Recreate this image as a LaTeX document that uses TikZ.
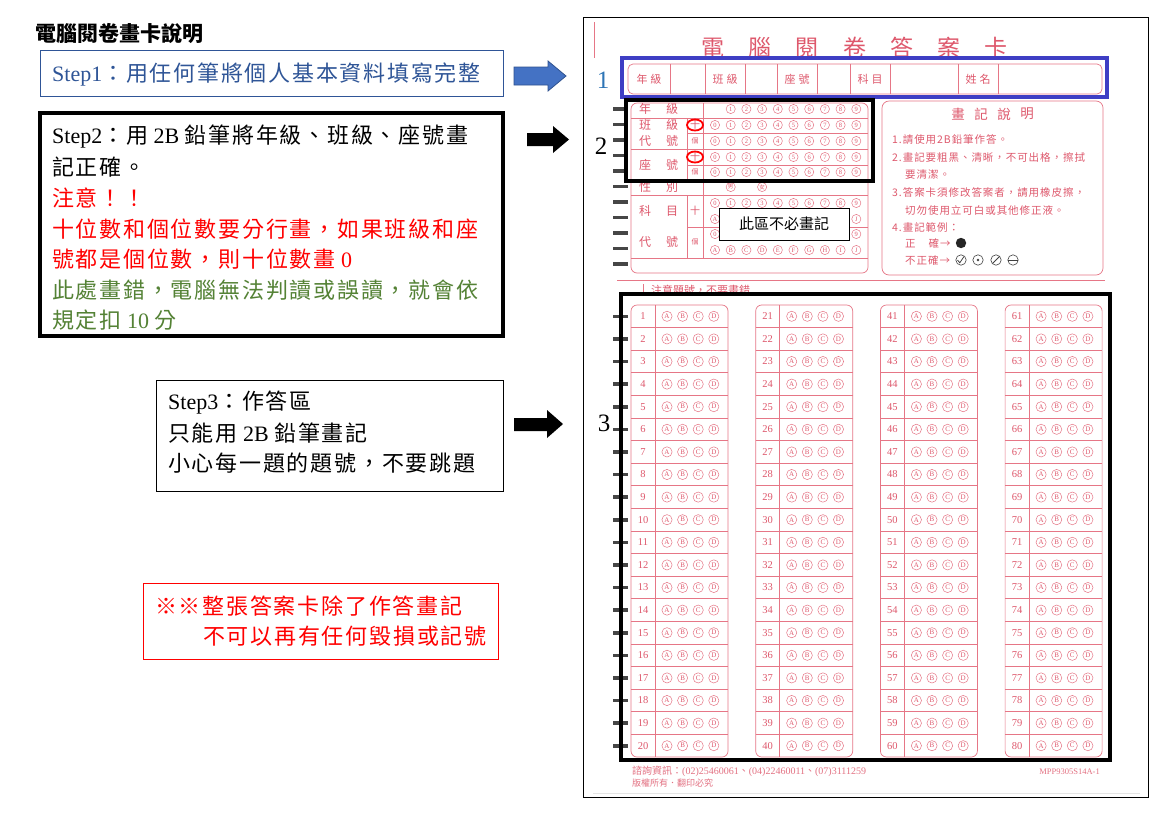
\documentclass[tikz,border=0pt]{standalone}
\usepackage{fontspec}
\setmainfont{Liberation Serif}
\newfontfamily\cjk{Noto Sans CJK TC}
\newfontfamily\cjksp{Noto Sans CJK TC}[LetterSpace=8]
\newfontfamily\cjkcard{Noto Sans CJK TC}[LetterSpace=9]
\definecolor{cred}{RGB}{222,88,108}
\definecolor{cline}{RGB}{230,118,134}
\definecolor{sblue}{RGB}{47,85,151}
\definecolor{sgreen}{RGB}{84,130,53}
\definecolor{bbox}{RGB}{62,62,196}
\definecolor{arrblue}{RGB}{68,114,196}
\definecolor{arrblued}{RGB}{47,82,143}
\definecolor{numblue}{RGB}{46,117,182}
\definecolor{tmk}{RGB}{70,70,70}
\begin{document}
\begin{tikzpicture}[x=1pt,y=-1pt,
  steptxt/.style={anchor=west, inner sep=0pt, font=\fontsize{22}{26}\selectfont},
  cardline/.style={draw=cline, line width=0.7pt},
  ctxt/.style={text=cred, inner sep=0pt, font=\cjk\fontsize{12}{12}\selectfont},
  csmall/.style={text=cred, inner sep=0pt, anchor=west, font=\cjkcard\fontsize{10.5}{11}\selectfont},
  bub/.style={draw=cline, line width=0.5pt},
  bubtxt/.style={text=cred, inner sep=0pt, font=\fontsize{6.5}{7}\selectfont},
  abubtxt/.style={text=cred, inner sep=0pt, font=\fontsize{7}{7}\selectfont},
  numtxt/.style={text=cred, inner sep=0pt, font=\fontsize{10.5}{10.5}\selectfont},
  bigbox/.style={draw=black, line width=4pt},
  bignum/.style={inner sep=0pt, font=\fontsize{25}{25}\selectfont},
]
\useasboundingbox (0,0) rectangle (1170,812);
\fill[white] (0,0) rectangle (1170,812);

% ---------- left side ----------
\node[anchor=west, inner sep=0pt, font=\cjk\bfseries\fontsize{21}{21}\selectfont] (title) at (35,34) {電腦閱卷畫卡說明};

\draw[draw=sblue, line width=1pt] (40,50) rectangle (503,96);
\node[steptxt, text=sblue] (s1) at (52,74) {Step1{\cjksp ：用任何筆將個人基本資料填寫完整}};

\draw[draw=black, line width=4pt] (40,113) rectangle (503,336);
\node[steptxt] (s2a) at (52,137) {Step2{\cjksp ：用} 2B {\cjksp 鉛筆將年級、班級、座號畫}};
\node[steptxt] (s2b) at (52,167) {{\cjksp 記正確。}};
\node[steptxt, text=red] (s2c) at (52,198) {{\cjksp 注意！！}};
\node[steptxt, text=red] (s2d) at (52,229) {{\cjksp 十位數和個位數要分行畫，如果班級和座}};
\node[steptxt, text=red] (s2e) at (52,259) {{\cjksp 號都是個位數，則十位數畫} 0};
\node[steptxt, text=sgreen] (s2f) at (52,290) {{\cjksp 此處畫錯，電腦無法判讀或誤讀，就會依}};
\node[steptxt, text=sgreen] (s2g) at (52,320) {{\cjksp 規定扣} 10 {\cjksp 分}};

\draw[draw=black, line width=1pt] (156,380) rectangle (503,491);
\node[steptxt] (s3a) at (168,403) {Step3{\cjksp ：作答區}};
\node[steptxt] (s3b) at (168,433) {{\cjksp 只能用} 2B {\cjksp 鉛筆畫記}};
\node[steptxt] (s3c) at (168,463) {{\cjksp 小心每一題的題號，不要跳題}};

\draw[draw=red, line width=1pt] (143,583) rectangle (498,659);
\node[steptxt, text=red] (w1) at (155,606) {{\cjksp ※※整張答案卡除了作答畫記}};
\node[steptxt, text=red] (w2) at (203,636) {{\cjksp 不可以再有任何毀損或記號}};

% arrows
\fill[arrblue, draw=arrblued, line width=0.8pt] (514,67) -- (548,67) -- (548,61) -- (566,76) -- (548,91) -- (548,85) -- (514,85) -- cycle;
\fill[black] (527,133) -- (553,133) -- (553,126) -- (569,139.5) -- (553,153) -- (553,146) -- (527,146) -- cycle;
\fill[black] (514,418) -- (547,418) -- (547,410) -- (563,424) -- (547,438) -- (547,431) -- (514,431) -- cycle;

% ---------- answer card ----------
\draw[black, line width=0.8pt] (583,17) rectangle (1148,797);
\draw[gray!20, line width=1pt] (593,793) -- (1140,793);
\draw[cline] (594,22) -- (594,58);
\foreach \ch [count=\i from 0] in {電,腦,閱,卷,答,案,卡}{
  \node[text=cred, inner sep=0pt, font=\cjk\fontsize{23}{23}\selectfont] (t\i) at (713+47.2*\i,48) {\ch};
}
% info row
\draw[cardline, rounded corners=5pt] (628,64) rectangle (1102,94);
\foreach \xx in {670,705,745,777,817,850,890,958,998}{\draw[cardline] (\xx,64) -- (\xx,94);}
\node[ctxt, font=\cjk\fontsize{11}{11}\selectfont] (i1) at (649,79) {年\hspace{3pt}級};
\node[ctxt, font=\cjk\fontsize{11}{11}\selectfont] (i2) at (725,79) {班\hspace{3pt}級};
\node[ctxt, font=\cjk\fontsize{11}{11}\selectfont] (i3) at (797,79) {座\hspace{3pt}號};
\node[ctxt, font=\cjk\fontsize{11}{11}\selectfont] (i4) at (870,79) {科\hspace{3pt}目};
\node[ctxt, font=\cjk\fontsize{11}{11}\selectfont] (i5) at (978,79) {姓\hspace{3pt}名};

% upper-left block
\draw[cardline, rounded corners=6pt] (631,103) rectangle (868,273);
\foreach \yy in {118,149,180,195,258}{\draw[cardline] (631,\yy) -- (868,\yy);}
\foreach \yy in {133,165,227}{\draw[cardline] (687,\yy) -- (868,\yy);}
\draw[cardline] (703,103) -- (703,258);
\draw[cardline] (687,118) -- (687,180);
\draw[cardline] (687,195) -- (687,258);
\node[ctxt] (l1a) at (645,109) {年}; \node[ctxt] (l1b) at (672,109) {級};
\node[ctxt] (l2a) at (645,125) {班}; \node[ctxt] (l2b) at (672,125) {級};
\node[ctxt] (l3a) at (645,141) {代}; \node[ctxt] (l3b) at (672,141) {號};
\node[ctxt] (l4a) at (645,165) {座}; \node[ctxt] (l4b) at (672,165) {號};
\node[ctxt] (l5a) at (645,187) {性}; \node[ctxt] (l5b) at (672,187) {別};
\node[ctxt] (l6a) at (645,211) {科}; \node[ctxt] (l6b) at (672,211) {目};
\node[ctxt] (l7a) at (645,242) {代}; \node[ctxt] (l7b) at (672,242) {號};
\node[ctxt, font=\cjk\fontsize{10}{10}\selectfont] (c1) at (695,125) {十};
\node[ctxt, font=\cjk\fontsize{7}{7}\selectfont] (c2) at (695,141) {個};
\node[ctxt, font=\cjk\fontsize{10}{10}\selectfont] (c3) at (695,157) {十};
\node[ctxt, font=\cjk\fontsize{7}{7}\selectfont] (c4) at (695,172) {個};
\node[ctxt, font=\cjk\fontsize{10}{10}\selectfont] (c5) at (695,211) {十};
\node[ctxt, font=\cjk\fontsize{7}{7}\selectfont] (c6) at (695,242) {個};
% digit bubbles
\foreach \k in {1,...,9}{
  \draw[bub] (715+15.7*\k,109) circle[radius=4.6pt];
  \node[bubtxt] (g\k) at (715+15.7*\k,109) {\k};
}
\foreach \yy in {125,141,157,172,203}{
  \foreach \k in {0,...,9}{
    \draw[bub] (715+15.7*\k,\yy) circle[radius=4.6pt];
    \node[bubtxt] (d\yy-\k) at (715+15.7*\k,\yy) {\k};
  }
}
% rows partly hidden by the note box: only the end bubbles show
\foreach \k in {0,9}{
  \draw[bub] (715+15.7*\k,234) circle[radius=4.6pt];
  \node[bubtxt] (d234-\k) at (715+15.7*\k,234) {\k};
}
\draw[bub] (715,219) circle[radius=4.6pt];
\node[bubtxt] (e219-0) at (715,219) {A};
\draw[bub] (856.3,219) circle[radius=4.6pt];
\node[bubtxt] (e219-9) at (856.3,219) {J};
\foreach \lt [count=\k from 0] in {A,B,C,D,E,F,G,H,I,J}{
  \draw[bub] (715+15.7*\k,250) circle[radius=4.6pt];
  \node[bubtxt] (e250-\k) at (715+15.7*\k,250) {\lt};
}
\draw[bub] (730.7,187) circle[radius=4.6pt];
\node[bubtxt, font=\cjk\fontsize{5.5}{6}\selectfont] (male) at (730.7,187) {男};
\draw[bub] (762.1,187) circle[radius=4.6pt];
\node[bubtxt, font=\cjk\fontsize{5.5}{6}\selectfont] (female) at (762.1,187) {女};

% instruction box
\draw[cardline, rounded corners=7pt] (882,101) rectangle (1103,275);
\foreach \ch [count=\i from 0] in {畫,記,說,明}{
  \node[ctxt, font=\cjk\fontsize{13.5}{14}\selectfont] (h\i) at (958+23*\i,114) {\ch};
}
\node[csmall] (n1) at (892,140) {1.請使用2B鉛筆作答。};
\node[csmall] (n2) at (892,158) {2.畫記要粗黑、清晰，不可出格，擦拭};
\node[csmall] (n2b) at (905,175) {要清潔。};
\node[csmall] (n3) at (892,193) {3.答案卡須修改答案者，請用橡皮擦，};
\node[csmall] (n3b) at (905,210) {切勿使用立可白或其他修正液。};
\node[csmall] (n4) at (892,227) {4.畫記範例：};
\node[csmall] (n5) at (905,243) {正\hspace{13pt}確→};
\node[csmall] (n6) at (905,260) {不正確→};
\fill[black!85] (961,243) circle[radius=5.2pt];
\foreach \xx in {961,978,996,1013}{\draw[draw=black!75, line width=0.6pt] (\xx,260) circle[radius=5.2pt];}
\draw[black!75, line width=0.8pt] (957.5,260) -- (959.8,262.8) -- (964,256.5);
\fill[black!75] (978,260) circle[radius=1.4pt];
\draw[black!75, line width=0.8pt] (992.5,263.5) -- (999.5,256.5);
\draw[black!75, line width=0.8pt] (1008.2,260) -- (1017.8,260);

% separator
\draw[cardline] (617,280) -- (1105,280);
\draw[cardline] (643,284) -- (643,296);
\node[csmall, font=\cjk\fontsize{11}{11}\selectfont] (warn) at (651,290) {注意題號，不要畫錯};

% timing marks
\foreach \i in {0,...,10}{\fill[tmk] (613,109+15.5*\i-1.8) rectangle (628,109+15.5*\i+1.8);}
\foreach \r in {1,...,20}{\fill[tmk] (613,316.3+22.6*\r-22.6-1.8) rectangle (628,316.3+22.6*\r-22.6+1.8);}

% answer grid
\foreach \c in {0,1,2,3}{
  \pgfmathsetmacro\L{631+124.7*\c}
  \draw[cardline, rounded corners=6pt] (\L,305) rectangle (\L+97,757);
  \draw[cardline] (\L+24,305) -- (\L+24,757);
  \foreach \r in {1,...,19}{\draw[cardline] (\L,305+22.6*\r) -- (\L+97,305+22.6*\r);}
  \foreach \r in {1,...,20}{
    \pgfmathtruncatemacro\n{20*\c+\r}
    \pgfmathsetmacro\yy{316.3+22.6*(\r-1)}
    \node[numtxt] (q\n) at (\L+12,\yy) {\n};
    \foreach \lt [count=\k from 0] in {A,B,C,D}{
      \draw[bub] (\L+36+15.6*\k,\yy) circle[radius=5.1pt];
      \node[abubtxt] (q\n\lt) at (\L+36+15.6*\k,\yy) {\lt};
    }
  }
}

% footer
\node[text=cred!85, inner sep=0pt, anchor=west, font=\fontsize{10}{10}\selectfont] (f1) at (632,771) {{\cjk 諮詢資訊：}(02)25460061{\cjk 、}(04)22460011{\cjk 、}(07)3111259};
\node[text=cred!85, inner sep=0pt, anchor=west, font=\cjk\fontsize{9}{9}\selectfont] (f2) at (632,783) {版權所有．翻印必究};
\node[text=cred!85, inner sep=0pt, anchor=east, font=\fontsize{8.5}{9}\selectfont] (f3) at (1100,772) {MPP9305S14A-1};

% overlays
\draw[draw=bbox, line width=3.5pt] (622,58) rectangle (1107,97);
\node[bignum, text=numblue] (k1) at (603,80) {1};
\draw[bigbox] (626,100) rectangle (873,181);
\node[bignum] (k2) at (601,146) {2};
\draw[bigbox] (621,294) rectangle (1110,760);
\node[bignum] (k3) at (604,423) {3};
\draw[red, line width=1.8pt] (695,125) ellipse[x radius=8pt, y radius=5.5pt];
\draw[red, line width=1.8pt] (695,157) ellipse[x radius=8pt, y radius=5.5pt];
\node[draw=black, fill=white, line width=0.8pt, minimum width=130pt, minimum height=32pt, inner sep=0pt, font=\cjk\fontsize{15}{15}\selectfont] (noneed) at (784,224) {此區不必畫記};
\end{tikzpicture}
\end{document}
